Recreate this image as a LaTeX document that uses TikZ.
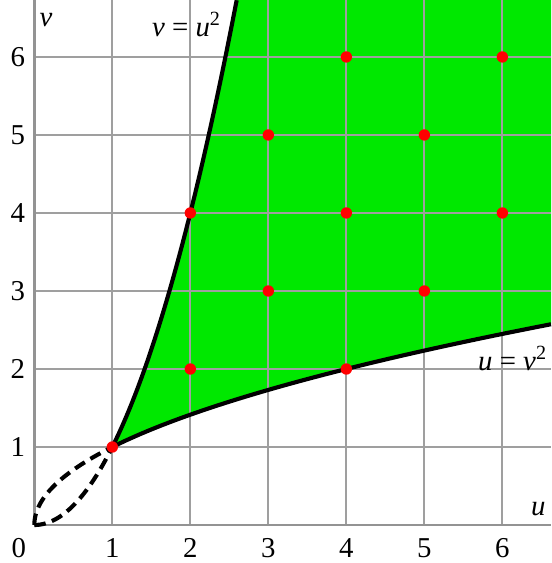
\documentclass[tikz,border=0pt]{standalone}
\usepackage{fontspec}
\setmainfont{Liberation Serif}
\usepackage{xcolor}
\usepackage{tikz}
\usetikzlibrary{positioning}

\definecolor{regiongreen}{RGB}{0,232,0}

\begin{document}
\begin{tikzpicture}[
    gridline/.style={draw=gray!75, line width=0.7pt},
    axisline/.style={draw=gray!85, line width=0.9pt},
    curve/.style={draw=black, line width=1.5pt},
    loopcurve/.style={draw=black, line width=1.5pt, dash pattern=on 4.2pt off 2.4pt},
    dot/.style={fill=red},
    ticklabel/.style={font=\fontsize{10.5}{12}\selectfont},
    curvelabel/.style={font=\fontsize{10.5}{12}\selectfont, inner sep=1pt}
]
\useasboundingbox (-0.44,-0.487) rectangle (6.625,6.73);

% Region between the two curves
\fill[regiongreen] plot[domain=1:2.594, samples=40] (\x,{\x*\x})
    -- (6.625,6.73) -- (6.625,2.574)
    -- plot[domain=2.574:1, samples=40] ({\x*\x},\x) -- cycle;

% Grid
\foreach \k in {1,...,6} {
    \draw[gridline] (\k,0) -- (\k,6.73);
    \draw[gridline] (0,\k) -- (6.625,\k);
}
\draw[axisline] (0,0) -- (6.625,0);
\draw[axisline] (0,0) -- (0,6.73);

% Tick labels
\node[ticklabel] (orig) at (-0.2,-0.3) {0};
\foreach \k in {1,...,6} {
    \node[ticklabel] (tu\k) at (\k,-0.3) {\k};
    \node[ticklabel] (tv\k) at (-0.21,\k) {\k};
}
\node[ticklabel] (ulabel) at (6.46,0.21) {\textit{u}};
\node[ticklabel] (vlabel) at (0.15,6.47) {\textit{v}};

% Curves
\draw[curve] plot[domain=1:2.594, samples=40] (\x,{\x*\x});
\draw[curve] plot[domain=1:2.574, samples=40] ({\x*\x},\x);
\draw[loopcurve] plot[domain=0:1, samples=30] (\x,{\x*\x});
\draw[loopcurve] plot[domain=0:1, samples=30] ({\x*\x},\x);

\node[curvelabel, anchor=east] (vequ) at (2.44,6.42) {\textit{v} = \textit{u}\textsuperscript{2}};
\node[curvelabel, anchor=east] (ueqv) at (6.62,2.14) {\textit{u} = \textit{v}\textsuperscript{2}};

% Lattice points
\foreach \p/\q in {1/1,2/2,2/4,3/3,3/5,4/2,4/4,4/6,5/3,5/5,6/4,6/6}
    \fill[dot] (\p,\q) circle (0.073);

\end{tikzpicture}
\end{document}
